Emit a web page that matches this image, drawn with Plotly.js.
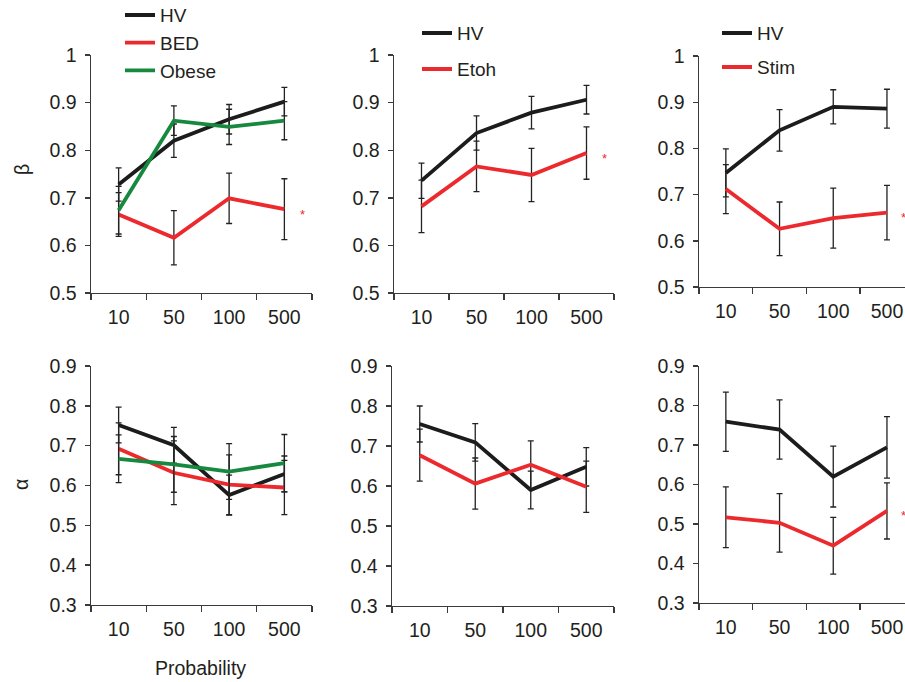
<!DOCTYPE html>
<html>
<head>
<meta charset="utf-8">
<script src="https://cdn.plot.ly/plotly-3.0.1.min.js"></script>
<style>
html,body{margin:0;padding:0;background:#fff;overflow:hidden}
#chart{width:905px;height:690px;margin-top:-8px}
</style>
</head>
<body>
<div id="chart"></div>
<script>
// ---- data ----
const cats = ['10', '50', '100', '500'];

// Beta, panel 1 (HV / BED / Obese)
const beta1HV = [0.728, 0.820, 0.865, 0.902];
const beta1HVerr = [0.035, 0.035, 0.031, 0.030];
const beta1BED = [0.665, 0.616, 0.699, 0.676];
const beta1BEDerr = [0.046, 0.057, 0.053, 0.064];
const beta1Obese = [0.674, 0.862, 0.849, 0.862];
const beta1Obeseerr = [0.050, 0.031, 0.037, 0.040];

// Beta, panel 2 (HV / Etoh)
const beta2HV = [0.736, 0.836, 0.879, 0.906];
const beta2HVerr = [0.037, 0.036, 0.034, 0.030];
const beta2Etoh = [0.682, 0.766, 0.748, 0.794];
const beta2Etoherr = [0.055, 0.053, 0.056, 0.055];

// Beta, panel 3 (HV / Stim)
const beta3HV = [0.747, 0.839, 0.890, 0.886];
const beta3HVerr = [0.052, 0.045, 0.037, 0.042];
const beta3Stim = [0.712, 0.626, 0.649, 0.661];
const beta3Stimerr = [0.053, 0.058, 0.065, 0.059];

// Alpha, panel 4 (HV / BED / Obese)
const alpha1HV = [0.752, 0.701, 0.576, 0.629];
const alpha1HVerr = [0.045, 0.045, 0.050, 0.045];
const alpha1BED = [0.692, 0.632, 0.602, 0.595];
const alpha1BEDerr = [0.065, 0.080, 0.075, 0.068];
const alpha1Obese = [0.667, 0.653, 0.635, 0.656];
const alpha1Obeseerr = [0.060, 0.070, 0.070, 0.072];

// Alpha, panel 5 (HV / Etoh)
const alpha2HV = [0.755, 0.709, 0.590, 0.648];
const alpha2HVerr = [0.045, 0.047, 0.047, 0.048];
const alpha2Etoh = [0.677, 0.606, 0.653, 0.598];
const alpha2Etoherr = [0.065, 0.064, 0.060, 0.064];

// Alpha, panel 6 (HV / Stim)
const alpha3HV = [0.759, 0.739, 0.620, 0.694];
const alpha3HVerr = [0.075, 0.075, 0.077, 0.078];
const alpha3Stim = [0.517, 0.503, 0.445, 0.533];
const alpha3Stimerr = [0.077, 0.074, 0.072, 0.071];

// ---- style ----
const BLACK = '#1c1c1c', RED = '#ec2a2e', GREEN = '#16893e';
const FONT = 'Liberation Sans, Arial, Helvetica, sans-serif';
const FS = 19.5, LFS = 19;
const TXT = '#231f20';

function tr(name, y, err, color, xa, ya, legend, show) {
  return {
    type: 'scatter', mode: 'lines', name: name, x: cats, y: y,
    xaxis: xa, yaxis: ya,
    line: {color: color, width: 3.8},
    error_y: {type: 'data', array: err, visible: true, color: '#222', thickness: 1.3, width: 3},
    showlegend: show, legend: legend, legendgroup: legend + name
  };
}

const data = [
  tr('HV', beta1HV, beta1HVerr, BLACK, 'x', 'y', 'legend', true),
  tr('BED', beta1BED, beta1BEDerr, RED, 'x', 'y', 'legend', true),
  tr('Obese', beta1Obese, beta1Obeseerr, GREEN, 'x', 'y', 'legend', true),
  tr('HV', beta2HV, beta2HVerr, BLACK, 'x2', 'y2', 'legend2', true),
  tr('Etoh', beta2Etoh, beta2Etoherr, RED, 'x2', 'y2', 'legend2', true),
  tr('HV', beta3HV, beta3HVerr, BLACK, 'x3', 'y3', 'legend3', true),
  tr('Stim', beta3Stim, beta3Stimerr, RED, 'x3', 'y3', 'legend3', true),
  tr('HV', alpha1HV, alpha1HVerr, BLACK, 'x4', 'y4', 'legend', false),
  tr('BED', alpha1BED, alpha1BEDerr, RED, 'x4', 'y4', 'legend', false),
  tr('Obese', alpha1Obese, alpha1Obeseerr, GREEN, 'x4', 'y4', 'legend', false),
  tr('HV', alpha2HV, alpha2HVerr, BLACK, 'x5', 'y5', 'legend2', false),
  tr('Etoh', alpha2Etoh, alpha2Etoherr, RED, 'x5', 'y5', 'legend2', false),
  tr('HV', alpha3HV, alpha3HVerr, BLACK, 'x6', 'y6', 'legend3', false),
  tr('Stim', alpha3Stim, alpha3Stimerr, RED, 'x6', 'y6', 'legend3', false)
];

const W = 905, OFF = 8, H = 682 + OFF;
function xd(a, b) { return [a / W, b / W]; }
function py(p) { return 1 - (p + OFF) / H; }
function yd(top, bottom) { return [py(bottom), py(top)]; }

function xax(dom, anchor, range) {
  return {
    domain: dom, anchor: anchor, type: 'category', range: range,
    showline: true, linecolor: '#3a3a3a', linewidth: 1.4,
    ticks: 'outside', tickson: 'boundaries', ticklen: 6, tickcolor: '#3a3a3a', tickwidth: 1.4,
    ticklabelstandoff: 6,
    showgrid: false, zeroline: false, fixedrange: true,
    tickfont: {family: FONT, size: FS, color: TXT}
  };
}
function yax(dom, anchor, range) {
  return {
    domain: dom, anchor: anchor, range: range, dtick: 0.1, tick0: 0,
    showline: true, linecolor: '#3a3a3a', linewidth: 1.4,
    ticks: 'outside', ticklen: 5, tickcolor: '#3a3a3a', tickwidth: 1.4,
    ticklabelstandoff: 4,
    showgrid: false, zeroline: false, fixedrange: true,
    tickfont: {family: FONT, size: FS, color: TXT}
  };
}

const fullR = [-0.5, 3.5], clipR = [-0.5, 3.336];

// firstCenter: pixel centre of first legend row in the picture
function leg(xpx, firstCenter, gap) {
  const h = LFS * 1.3 + 3;
  const top = firstCenter - 5 - h / 2;
  return {
    x: xpx / W, y: py(top), xanchor: 'left', yanchor: 'top',
    bgcolor: 'rgba(0,0,0,0)', borderwidth: 0,
    traceorder: 'grouped', tracegroupgap: gap,
    font: {family: FONT, size: LFS, color: TXT}
  };
}

function star(xa, ya, x, y) {
  return {xref: xa, yref: ya, x: x, y: y, text: '*', showarrow: false,
    xanchor: 'center', yanchor: 'middle',
    font: {family: FONT, size: 13, color: RED}, yshift: -5};
}

function label(xpx, ypx, text, angle) {
  return {xref: 'paper', yref: 'paper', x: xpx / W, y: py(ypx), text: text, textangle: angle,
    xanchor: 'center', yanchor: 'middle', showarrow: false,
    font: {family: FONT, size: FS, color: TXT}};
}

const layout = {
  width: W, height: H,
  margin: {l: 0, r: 0, t: 0, b: 0},
  paper_bgcolor: '#fff', plot_bgcolor: '#fff',
  font: {family: FONT, color: TXT},
  xaxis: xax(xd(91, 312), 'y', fullR),
  yaxis: yax(yd(55, 293), 'x', [0.5, 1]),
  xaxis2: xax(xd(394, 614), 'y2', fullR),
  yaxis2: yax(yd(55, 293), 'x2', [0.5, 1]),
  xaxis3: xax(xd(699, 905), 'y3', clipR),
  yaxis3: yax(yd(56, 287), 'x3', [0.5, 1]),
  xaxis4: xax(xd(91, 312), 'y4', fullR),
  yaxis4: yax(yd(366, 605), 'x4', [0.3, 0.9]),
  xaxis5: xax(xd(392, 614), 'y5', fullR),
  yaxis5: yax(yd(366, 606), 'x5', [0.3, 0.9]),
  xaxis6: xax(xd(699, 905), 'y6', clipR),
  yaxis6: yax(yd(366, 603), 'x6', [0.3, 0.9]),
  legend: leg(120, 15, 0),
  legend2: leg(417, 33, 8.3),
  legend3: leg(717, 33, 6.3),
  annotations: [
    star('x', 'y', 3.33, beta1BED[3]),
    star('x2', 'y2', 3.33, beta2Etoh[3]),
    star('x3', 'y3', 3.31, beta3Stim[3]),
    star('x6', 'y6', 3.31, alpha3Stim[3]),
    label(22, 170, 'β', -90),
    label(21, 485, 'α', -90),
    label(200, 668, 'Probability', 0)
  ]
};

Plotly.newPlot('chart', data, layout, {displayModeBar: false, staticPlot: true});
</script>
</body>
</html>
